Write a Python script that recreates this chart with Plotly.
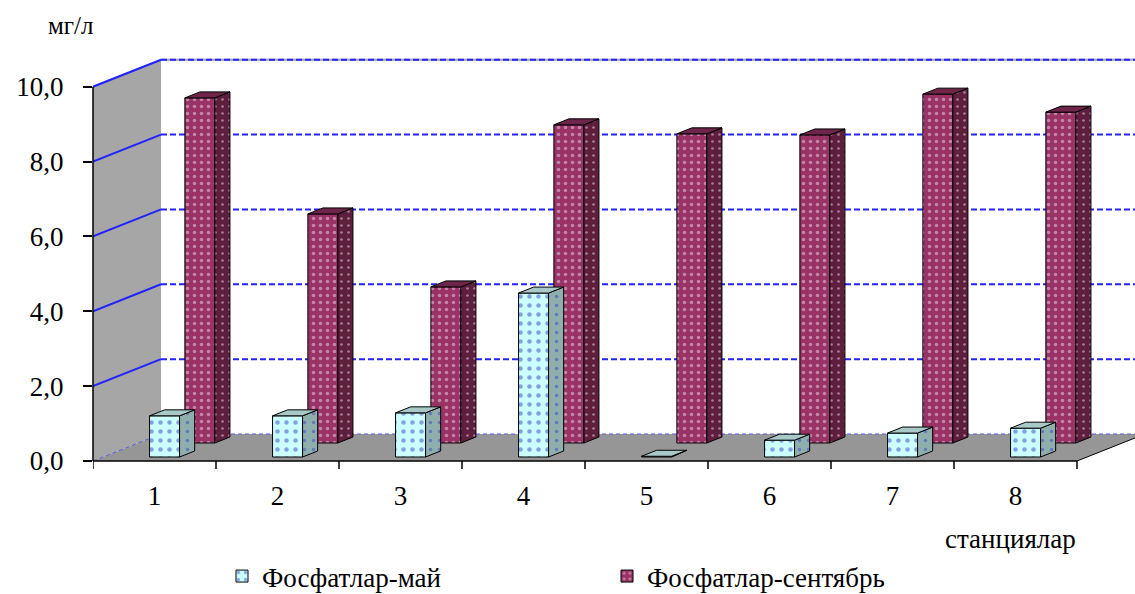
import plotly.graph_objects as go

# ---- data -------------------------------------------------------------
stations = ["1", "2", "3", "4", "5", "6", "7", "8"]
phosphates_may = [1.10, 1.10, 1.18, 4.38, 0.02, 0.45, 0.64, 0.77]
phosphates_sep = [9.22, 6.12, 4.17, 8.50, 8.26, 8.23, 9.32, 8.84]
y_tick_vals = [0, 2, 4, 6, 8, 10]
y_tick_text = ["0,0", "2,0", "4,0", "6,0", "8,0", "10,0"]

# ---- pseudo-3D geometry (oblique projection) --------------------------
W, H = 1135, 594
M_L, M_T, M_B = 93, 40, 133
PX_CAT = 123.0           # pixels per category
PX_VAL = 37.43           # pixels per unit of value
X_MAX = (W - M_L) / PX_CAT
Y_MAX = (H - M_T - M_B) / PX_VAL
DX = 68 / PX_CAT         # full depth shift along x (data units)
DY = 27 / PX_VAL         # full depth shift along y (data units)
BAR_W = 30 / PX_CAT
N = len(stations)
centers = [i + 0.5 for i in range(N)]

FONT = "Liberation Serif, Times New Roman, DejaVu Serif, serif"


def box_faces(values, t0, t1):
    """Front-face positions plus side/top polygons for a row of boxes."""
    xs, base = [], t0 * DY
    side_x, side_y, top_x, top_y = [], [], [], []
    d = t1 - t0
    for c, v in zip(centers, values):
        xc = c + t0 * DX
        xl, xr = xc - BAR_W / 2, xc + BAR_W / 2
        xs.append(xc)
        side_x += [xr, xr + d * DX, xr + d * DX, xr, xr, None]
        side_y += [base, base + d * DY, base + v + d * DY, base + v, base, None]
        top_x += [xl, xr, xr + d * DX, xl + d * DX, xl, None]
        top_y += [base + v, base + v, base + v + d * DY, base + v + d * DY, base + v, None]
    return xs, base, (side_x, side_y), (top_x, top_y)


series = [
    # name, values, depth range, front, side, top, dot colour, dot size
    ("Фосфатлар-сентябрь", phosphates_sep, (0.667, 0.889),
     "#993366", "#5E1F3F", "#6E2549", "#F3D6E6", 7),
    ("Фосфатлар-май", phosphates_may, (0.148, 0.370),
     "#CCFFFF", "#8FAEAE", "#A9C8C8", "#3545C0", 9),
]

fig = go.Figure()

for name, vals, (t0, t1), c_front, c_side, c_top, c_dot, dsz in series:
    xs, base, side, top = box_faces(vals, t0, t1)
    fig.add_trace(go.Bar(
        x=xs, y=vals, base=base, width=BAR_W, name=name,
        marker=dict(color=c_front, line=dict(color="black", width=1),
                    pattern=dict(shape=".", fgcolor=c_dot, size=dsz, solidity=0.2)),
        hoverinfo="skip",
    ))
for name, vals, (t0, t1), c_front, c_side, c_top, c_dot, dsz in series:
    xs, base, side, top = box_faces(vals, t0, t1)
    fig.add_trace(go.Scatter(
        x=side[0], y=side[1], mode="lines", fill="toself", fillcolor=c_side,
        fillpattern=dict(shape=".", fgcolor=c_dot, bgcolor=c_side, size=dsz, solidity=0.12),
        line=dict(color="black", width=1), showlegend=False, hoverinfo="skip",
    ))
    fig.add_trace(go.Scatter(
        x=top[0], y=top[1], mode="lines", fill="toself", fillcolor=c_top,
        line=dict(color="black", width=1), showlegend=False, hoverinfo="skip",
    ))

# ---- walls, floor and gridlines -----------------------------------------
shapes = []
shapes.append(dict(type="path", layer="below", xref="x", yref="y",
                   path=f"M 0,0 L 0,10 L {DX},{10 + DY} L {DX},{DY} Z",
                   fillcolor="#A6A6A6", line=dict(width=0)))
shapes.append(dict(type="path", layer="below", xref="x", yref="y",
                   path=f"M 0,0 L {N},0 L {N + DX},{DY} L {DX},{DY} Z",
                   fillcolor="#969696", line=dict(width=0)))
shapes.append(dict(type="line", layer="below", xref="x", yref="y",
                   x0=DX, x1=X_MAX + 1, y0=10 + DY, y1=10 + DY,
                   line=dict(color="#A0A0A0", width=2)))
for v in y_tick_vals:
    if v == 0:
        back = dict(color="#5A5AE0", width=1, dash="4px,3px")
        side = dict(color="#5A5AE0", width=1, dash="4px,3px")
    else:
        back = dict(color="#2222FF", width=2, dash="6px,3px")
        side = dict(color="#2222FF", width=2)
    shapes.append(dict(type="line", layer="below", xref="x", yref="y",
                       x0=DX, x1=X_MAX + 1, y0=v + DY, y1=v + DY, line=back))
    shapes.append(dict(type="line", layer="below", xref="x", yref="y",
                       x0=0, x1=DX, y0=v, y1=v + DY, line=side))
# floor right edge
shapes.append(dict(type="line", layer="below", xref="x", yref="y",
                   x0=N, x1=N + DX, y0=0, y1=DY, line=dict(color="black", width=1)))
# front axes
shapes.append(dict(type="line", xref="paper", yref="y", x0=0, x1=0, y0=0, y1=10,
                   line=dict(color="black", width=1.5)))
shapes.append(dict(type="line", xref="x", yref="paper", x0=0, x1=N, y0=0, y1=0,
                   line=dict(color="black", width=1.5)))
for k in range(N + 1):
    shapes.append(dict(type="line", xref="x", yref="paper", x0=k, x1=k,
                       y0=0, y1=-8 / (H - M_T - M_B),
                       line=dict(color="black", width=1.5)))

fig.update_layout(
    width=W, height=H,
    margin=dict(l=M_L, r=0, t=M_T, b=M_B, autoexpand=False),
    paper_bgcolor="white", plot_bgcolor="white",
    font=dict(family=FONT, size=27, color="black"),
    barmode="overlay",
    shapes=shapes,
    showlegend=True,
    legend=dict(orientation="h", xref="container", yref="container",
                x=(222 / W), y=1 - 552 / H, xanchor="left", yanchor="top",
                traceorder="reversed", font=dict(size=27, family=FONT),
                entrywidth=340, entrywidthmode="pixels", itemwidth=30),
    xaxis=dict(range=[0, X_MAX], tickvals=centers, ticktext=stations, ticks="",
               showgrid=False, zeroline=False, showline=False,
               ticklabelstandoff=16, fixedrange=True),
    yaxis=dict(range=[0, Y_MAX], tickvals=y_tick_vals, ticktext=y_tick_text,
               ticks="outside", ticklen=9, tickwidth=1.5, tickcolor="black",
               showgrid=False, zeroline=False, showline=False,
               ticklabelstandoff=14, fixedrange=True),
    annotations=[
        dict(text="мг/л", xref="paper", yref="paper",
             x=(71 - M_L) / (W - M_L), y=(H - M_B - 25) / (H - M_T - M_B),
             showarrow=False, xanchor="center", yanchor="middle",
             font=dict(size=25, family=FONT)),
        dict(text="станциялар", xref="paper", yref="paper",
             x=(1010 - M_L) / (W - M_L), y=(H - M_B - 539) / (H - M_T - M_B),
             showarrow=False, xanchor="center", yanchor="middle",
             font=dict(size=27, family=FONT)),
    ],
)

fig.write_html("out.html")
